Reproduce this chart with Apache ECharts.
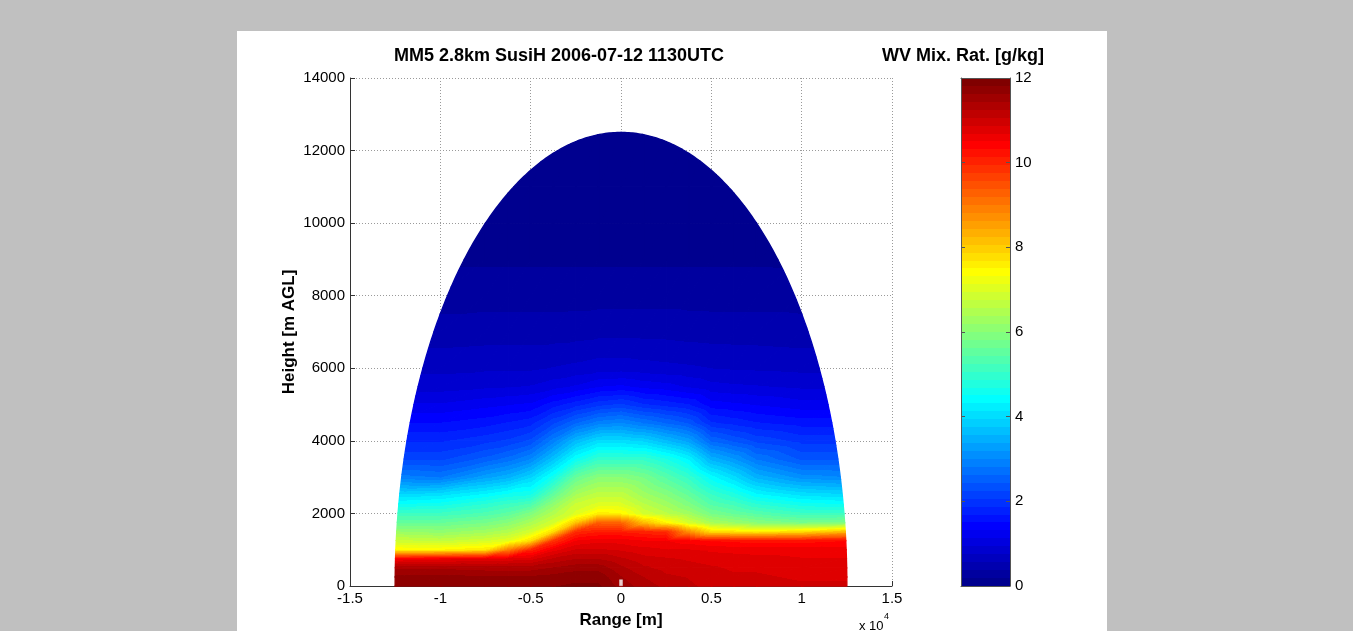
<!DOCTYPE html>
<html><head><meta charset="utf-8">
<script src="https://cdn.jsdelivr.net/npm/echarts/dist/echarts.min.js"></script>
<style>
html,body{margin:0;padding:0;background:#c0c0c0;width:1353px;height:631px;overflow:hidden}
#panel{position:absolute;left:237px;top:31px;width:870px;height:600px;background:#fff}
</style></head><body><div id="panel"></div>
<script>
// ---------------- data ----------------
const rangeCols = [-12500, -10000, -7500, -6250, -5000, -3750, -2500, -1250, 0, 1250, 2500, 3750, 5000, 6250, 7500, 10000, 12500];
const heightRows = [0, 250, 500, 750, 1000, 1250, 1500, 1750, 2000, 2250, 2500, 3000, 3500, 4000, 4500, 5000, 5500, 6000, 7000, 8000, 9000, 10000, 11000, 12500];
// water vapour mixing ratio [g/kg] profiles, one per range column, values at heightRows
const wv_m12500 = [11.8, 11.7, 11.4, 10.5, 7.5, 6.8, 6.2, 5.6, 5.1, 4.5, 4.0, 2.9, 2.2, 1.85, 1.5, 1.15, 0.85, 0.7, 0.45, 0.3, 0.15, 0.08, 0.04, 0];
const wv_m10000 = [11.8, 11.7, 11.4, 10.6, 7.5, 6.7, 6.1, 5.6, 5.1, 4.6, 4.1, 2.8, 2.2, 1.85, 1.5, 1.15, 0.85, 0.7, 0.45, 0.3, 0.15, 0.08, 0.04, 0];
const wv_m7500  = [11.8, 11.65, 11.35, 10.7, 7.7, 6.9, 6.3, 5.8, 5.3, 4.9, 4.4, 3.3, 2.5, 2.0, 1.6, 1.25, 0.9, 0.72, 0.47, 0.3, 0.16, 0.08, 0.04, 0];
const wv_m6250  = [11.8, 11.65, 11.35, 10.75, 8.9, 7.1, 6.5, 6.0, 5.5, 5.1, 4.6, 3.5, 2.7, 2.1, 1.7, 1.3, 0.92, 0.72, 0.47, 0.3, 0.16, 0.08, 0.04, 0];
const wv_m5000  = [11.8, 11.65, 11.35, 10.8, 10.0, 7.8, 6.9, 6.4, 5.9, 5.3, 4.7, 3.9, 3.0, 2.3, 1.8, 1.35, 0.95, 0.72, 0.47, 0.3, 0.16, 0.08, 0.04, 0];
const wv_m3750  = [11.8, 11.7, 11.45, 11.1, 10.6, 9.8, 7.8, 6.9, 6.5, 6.1, 5.6, 4.6, 3.7, 2.9, 2.2, 1.6, 1.05, 0.76, 0.47, 0.3, 0.16, 0.08, 0.04, 0];
const wv_m2500  = [11.85, 11.75, 11.55, 11.25, 10.9, 10.5, 9.9, 8.1, 7.0, 6.8, 6.4, 5.6, 4.5, 3.6, 2.6, 1.8, 1.15, 0.8, 0.48, 0.3, 0.16, 0.08, 0.04, 0];
const wv_m1250  = [11.85, 11.75, 11.55, 11.25, 10.9, 10.6, 10.1, 9.3, 7.6, 7.0, 6.7, 6.0, 5.0, 4.0, 2.9, 2.0, 1.3, 0.85, 0.5, 0.3, 0.16, 0.08, 0.04, 0];
const wv_0      = [11.55, 11.45, 11.3, 11.1, 10.85, 10.6, 10.1, 9.2, 7.5, 7.0, 6.7, 6.0, 5.0, 4.0, 3.0, 2.1, 1.35, 0.85, 0.5, 0.3, 0.16, 0.08, 0.04, 0];
const wv_p1250  = [11.35, 11.25, 11.1, 10.95, 10.75, 10.5, 10.0, 8.2, 6.9, 6.6, 6.3, 5.8, 5.0, 3.9, 2.8, 1.9, 1.25, 0.82, 0.5, 0.3, 0.16, 0.08, 0.04, 0];
const wv_p2500  = [11.2, 11.1, 11.0, 10.9, 10.7, 10.5, 9.9, 7.5, 6.6, 6.3, 6.0, 5.4, 4.7, 3.6, 2.6, 1.8, 1.2, 0.8, 0.5, 0.3, 0.16, 0.08, 0.04, 0];
const wv_p3750  = [11.1, 11.05, 10.95, 10.85, 10.7, 10.4, 8.7, 6.9, 6.3, 5.9, 5.6, 5.0, 4.3, 3.3, 2.4, 1.7, 1.1, 0.78, 0.48, 0.3, 0.16, 0.08, 0.04, 0];
const wv_p5000  = [11.0, 10.95, 10.9, 10.8, 10.65, 10.3, 7.8, 6.4, 5.8, 5.4, 5.1, 4.4, 3.5, 2.6, 1.9, 1.4, 1.0, 0.75, 0.47, 0.3, 0.16, 0.08, 0.04, 0];
const wv_p6250  = [10.95, 10.9, 10.85, 10.78, 10.62, 10.25, 7.7, 6.2, 5.6, 5.2, 4.8, 4.0, 3.2, 2.4, 1.8, 1.35, 0.97, 0.73, 0.47, 0.3, 0.16, 0.08, 0.04, 0];
const wv_p7500  = [10.95, 10.9, 10.85, 10.75, 10.6, 10.2, 7.6, 6.0, 5.4, 4.9, 4.4, 3.5, 2.8, 2.2, 1.7, 1.3, 0.95, 0.72, 0.47, 0.3, 0.16, 0.08, 0.04, 0];
const wv_p10000 = [10.9, 10.85, 10.8, 10.7, 10.6, 10.2, 7.8, 5.8, 5.1, 4.6, 4.1, 3.1, 2.4, 2.0, 1.6, 1.2, 0.9, 0.7, 0.45, 0.3, 0.15, 0.08, 0.04, 0];
const wv_p12500 = [10.9, 10.85, 10.8, 10.7, 10.6, 10.3, 8.2, 5.9, 5.1, 4.5, 4.0, 3.0, 2.4, 2.0, 1.6, 1.2, 0.9, 0.7, 0.45, 0.3, 0.15, 0.08, 0.04, 0];
const profiles = [wv_m12500, wv_m10000, wv_m7500, wv_m6250, wv_m5000, wv_m3750, wv_m2500, wv_m1250, wv_0,
                  wv_p1250, wv_p2500, wv_p3750, wv_p5000, wv_p6250, wv_p7500, wv_p10000, wv_p12500];
const domeRadius = 12500;              // maximum scan range [m]
const radarSite = [[0, 90]];
const xTickLabels = ['-1.5', '-1', '-0.5', '0', '0.5', '1', '1.5'];
const colorRange = [0, 12];
const titleText = 'MM5 2.8km SusiH 2006-07-12 1130UTC';
const cbarTitle = 'WV Mix. Rat. [g/kg]';

// ---------------- jet(64) colormap ----------------
const NC = 64;
const dv = (colorRange[1] - colorRange[0]) / NC;
function jetHex(k) {
  const m = k + 1;
  let r, g, b;
  r = m < 25 ? 0 : m <= 40 ? (m - 24) / 16 : m <= 56 ? 1 : (72 - m) / 16;
  g = m < 9 ? 0 : m <= 24 ? (m - 8) / 16 : m <= 40 ? 1 : m <= 56 ? (56 - m) / 16 : 0;
  b = m <= 8 ? (m + 8) / 16 : m <= 24 ? 1 : m <= 40 ? (40 - m) / 16 : 0;
  const h = x => ('0' + Math.round(Math.max(0, Math.min(1, x)) * 255).toString(16)).slice(-2);
  return '#' + h(r) + h(g) + h(b);
}
function lvl(v) { return Math.min(NC - 1, Math.max(0, Math.floor((v - colorRange[0]) / dv))); }

// ---------------- clipping to the scanned dome ----------------
const domePoly = [];
for (let s = 0; s <= 360; s++) {
  const th = Math.PI * s / 360;
  domePoly.push([domeRadius * Math.cos(th), domeRadius * Math.sin(th)]);
}
function side(a, b, p) { return (b[0] - a[0]) * (p[1] - a[1]) - (b[1] - a[1]) * (p[0] - a[0]); }
function clipToDome(pts) {
  let out = pts;
  for (let e = 0; e < domePoly.length; e++) {
    const a = domePoly[e], b = domePoly[(e + 1) % domePoly.length];
    const inp = out; out = [];
    if (!inp.length) break;
    for (let k = 0; k < inp.length; k++) {
      const p = inp[k], q = inp[(k + 1) % inp.length];
      const sp = side(a, b, p), sq = side(a, b, q);
      if (sp >= 0) {
        out.push(p);
        if (sq < 0) { const t = sp / (sp - sq); out.push([p[0] + t * (q[0] - p[0]), p[1] + t * (q[1] - p[1])]); }
      } else if (sq >= 0) {
        const t = sp / (sp - sq); out.push([p[0] + t * (q[0] - p[0]), p[1] + t * (q[1] - p[1])]);
      }
    }
  }
  return out;
}
function triFill(P, v) {
  const vmin = Math.min(v[0], v[1], v[2]), vmax = Math.max(v[0], v[1], v[2]);
  const kmin = lvl(vmin), kmax = lvl(vmax);
  if (kmin === kmax) return jetHex(kmin);
  const d1x = P[1][0] - P[0][0], d1y = P[1][1] - P[0][1];
  const d2x = P[2][0] - P[0][0], d2y = P[2][1] - P[0][1];
  const dv1 = v[1] - v[0], dv2 = v[2] - v[0];
  const det = d1x * d2y - d1y * d2x;
  if (Math.abs(det) < 1e-9) return jetHex(lvl((vmin + vmax) / 2));
  const a = (dv1 * d2y - dv2 * d1y) / det, b = (d1x * dv2 - d2x * dv1) / det;
  const g2 = a * a + b * b;
  const S = P[v.indexOf(vmin)];
  const span = vmax - vmin;
  const E = [S[0] + a * span / g2, S[1] + b * span / g2];
  const stops = [];
  for (let k = kmin; k <= kmax; k++) {
    const lo = Math.max(vmin, colorRange[0] + k * dv), hi = Math.min(vmax, colorRange[0] + (k + 1) * dv);
    const c = jetHex(k);
    stops.push({ offset: Math.max(0, Math.min(1, (lo - vmin) / span)), color: c });
    stops.push({ offset: Math.max(0, Math.min(1, (hi - vmin) / span)), color: c });
  }
  return { type: 'linear', x: S[0], y: S[1], x2: E[0], y2: E[1], global: true, colorStops: stops };
}

const cells = [];
for (let i = 0; i < rangeCols.length - 1; i++)
  for (let j = 0; j < heightRows.length - 1; j++)
    for (let t = 0; t < 2; t++) cells.push([i, j, t]);

function renderField(params, api) {
  const i = api.value(0), j = api.value(1), t = api.value(2);
  const x0 = rangeCols[i], x1 = rangeCols[i + 1], h0 = heightRows[j], h1 = heightRows[j + 1];
  const A = [x0, h0, profiles[i][j]], B = [x1, h0, profiles[i + 1][j]];
  const C = [x1, h1, profiles[i + 1][j + 1]], D = [x0, h1, profiles[i][j + 1]];
  const V = t === 0 ? [A, B, C] : [A, C, D];
  let poly = V.map(p => [p[0], p[1]]);
  const R2 = domeRadius * domeRadius;
  if (V.some(p => p[0] * p[0] + p[1] * p[1] > R2 * 0.999)) poly = clipToDome(poly);
  if (poly.length < 3) return null;
  const P = V.map(p => api.coord([p[0], p[1]]));
  const fill = triFill(P, V.map(p => p[2]));
  return { type: 'polygon', shape: { points: poly.map(p => api.coord(p)) },
           style: { fill: fill, stroke: fill, lineWidth: 1.4, lineJoin: 'round' } };
}
function renderColorbar(params, api) {
  const p0 = api.coord([0, api.value(0)]), p1 = api.coord([1, api.value(1)]);
  const stops = [];
  for (let k = NC - 1; k >= 0; k--) {
    const c = jetHex(k);
    stops.push({ offset: (NC - 1 - k) / NC, color: c }, { offset: (NC - k) / NC, color: c });
  }
  return { type: 'rect', shape: { x: p0[0], y: p1[1], width: p1[0] - p0[0], height: p0[1] - p1[1] },
           style: { fill: { type: 'linear', x: 0, y: 0, x2: 0, y2: 1, colorStops: stops } } };
}

const FONT = '"Liberation Sans", Arial, Helvetica, sans-serif';
const chart = echarts.init(document.getElementById('panel'), null, { renderer: 'canvas' });
const axisCol = '#333';
const cbCol = '#555';
chart.setOption({
  animation: false,
  backgroundColor: '#ffffff',
  textStyle: { fontFamily: FONT },
  grid: [
    { left: 113, top: 47, width: 542, height: 508, containLabel: false, outerBoundsMode: 'none' },
    { left: 724, top: 47, width: 49, height: 508, containLabel: false, outerBoundsMode: 'none' }
  ],
  xAxis: [
    { gridIndex: 0, type: 'value', min: -15000, max: 15000, interval: 5000,
      axisLine: { show: true, onZero: false, lineStyle: { color: axisCol, width: 1 } },
      axisTick: { show: true, inside: true, length: 5, lineStyle: { color: axisCol } },
      axisLabel: { show: true, color: '#000', fontSize: 15, fontFamily: FONT, margin: 5,
                   formatter: v => xTickLabels[Math.round((v + 15000) / 5000)] },
      splitLine: { show: true, lineStyle: { color: '#9a9a9a', width: 1, type: [1, 2] } },
      name: 'Range [m]', nameLocation: 'middle', nameGap: 26, nameMoveOverlap: false,
      nameTextStyle: { fontSize: 17, fontWeight: 'bold', color: '#000', fontFamily: FONT } },
    { gridIndex: 1, type: 'value', min: 0, max: 1, position: 'bottom', z: 5,
      axisLine: { show: true, onZero: false, lineStyle: { color: cbCol } },
      axisTick: { show: false }, axisLabel: { show: false }, splitLine: { show: false } },
    { gridIndex: 1, type: 'value', min: 0, max: 1, position: 'top', z: 5,
      axisLine: { show: true, onZero: false, lineStyle: { color: cbCol } },
      axisTick: { show: false }, axisLabel: { show: false }, splitLine: { show: false } }
  ],
  yAxis: [
    { gridIndex: 0, type: 'value', min: 0, max: 14000, interval: 2000,
      axisLine: { show: true, onZero: false, lineStyle: { color: axisCol, width: 1 } },
      axisTick: { show: true, inside: true, length: 5, lineStyle: { color: axisCol } },
      axisLabel: { show: true, color: '#000', fontSize: 15, fontFamily: FONT, margin: 5, formatter: v => String(v) },
      splitLine: { show: true, lineStyle: { color: '#9a9a9a', width: 1, type: [1, 2] } },
      name: 'Height [m AGL]', nameLocation: 'middle', nameGap: 52, nameMoveOverlap: false,
      nameTextStyle: { fontSize: 17, fontWeight: 'bold', color: '#000', fontFamily: FONT } },
    { gridIndex: 1, type: 'value', min: colorRange[0], max: colorRange[1], interval: 2, position: 'left', z: 5,
      axisLine: { show: true, onZero: false, lineStyle: { color: cbCol } },
      axisTick: { show: true, inside: true, length: 4, lineStyle: { color: cbCol } },
      axisLabel: { show: false }, splitLine: { show: false } },
    { gridIndex: 1, type: 'value', min: colorRange[0], max: colorRange[1], interval: 2, position: 'right', z: 5,
      axisLine: { show: true, onZero: false, lineStyle: { color: cbCol } },
      axisTick: { show: true, inside: true, length: 4, lineStyle: { color: cbCol } },
      axisLabel: { show: true, color: '#000', fontSize: 15, fontFamily: FONT, margin: 5, formatter: v => String(v) },
      splitLine: { show: false } }
  ],
  series: [
    { type: 'custom', xAxisIndex: 0, yAxisIndex: 0, data: cells, renderItem: renderField,
      clip: false, silent: true, z: 2 },
    { type: 'scatter', xAxisIndex: 0, yAxisIndex: 0, data: radarSite, symbol: 'rect', symbolSize: [3, 6],
      itemStyle: { color: '#ffffff', borderColor: '#dddddd', borderWidth: 0.5 }, silent: true, z: 3 },
    { type: 'custom', xAxisIndex: 1, yAxisIndex: 1, data: [colorRange], renderItem: renderColorbar,
      clip: false, silent: true, z: 2 }
  ],
  graphic: [
    { type: 'text', x: 322, y: 25, silent: true,
      style: { text: titleText, fill: '#000', font: 'bold 18px ' + FONT, textAlign: 'center', textVerticalAlign: 'middle', verticalAlign: 'middle' } },
    { type: 'text', x: 726, y: 25, silent: true,
      style: { text: cbarTitle, fill: '#000', font: 'bold 18px ' + FONT, textAlign: 'center', textVerticalAlign: 'middle', verticalAlign: 'middle' } },
    { type: 'text', x: 622, y: 595, silent: true,
      style: { text: 'x 10', fill: '#000', font: '13px ' + FONT, textAlign: 'left', textVerticalAlign: 'middle', verticalAlign: 'middle' } },
    { type: 'text', x: 647, y: 586, silent: true,
      style: { text: '4', fill: '#000', font: '9px ' + FONT, textAlign: 'left', textVerticalAlign: 'middle', verticalAlign: 'middle' } }
  ]
});
</script></body></html>
